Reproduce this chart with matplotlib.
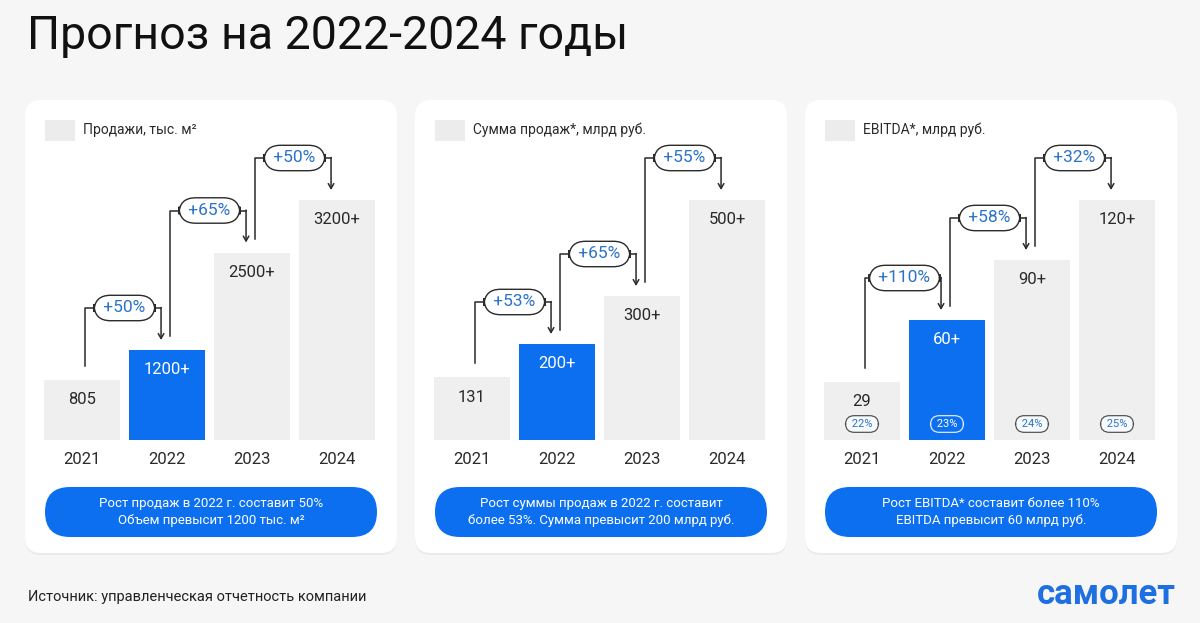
import matplotlib
matplotlib.use("Agg")
import matplotlib.pyplot as plt
from matplotlib.patches import FancyBboxPatch, Rectangle

plt.rcParams['font.family'] = ['Roboto', 'DejaVu Sans']

# данные
years = ['2021', '2022', '2023', '2024']
sales_area = [805, 1200, 2500, 3200]
sales_area_lbl = ['805', '1200+', '2500+', '3200+']
sales_area_growth = ['+50%', '+65%', '+50%']
sales_sum = [131, 200, 300, 500]
sales_sum_lbl = ['131', '200+', '300+', '500+']
sales_sum_growth = ['+53%', '+65%', '+55%']
ebitda = [29, 60, 90, 120]
ebitda_lbl = ['29', '60+', '90+', '120+']
ebitda_growth = ['+110%', '+58%', '+32%']
ebitda_margin = ['22%', '23%', '24%', '25%']

legend_txt = ['Продажи, тыс. м²', 'Сумма продаж*, млрд руб.', 'EBITDA*, млрд руб.']
note_txt = ['Рост продаж в 2022 г. составит 50%\nОбъем превысит 1200 тыс. м²',
            'Рост суммы продаж в 2022 г. составит\nболее 53%. Сумма превысит 200 млрд руб.',
            'Рост EBITDA* составит более 110%\nEBITDA превысит 60 млрд руб.']

BLUE = '#0b6ff0'
GRAY = '#efefef'
BG = '#f6f6f6'
DARK = '#2a2a2a'
PILL_TXT = '#2b72c9'

W, H = 1200, 623
fig = plt.figure(figsize=(12, 6.23), dpi=100, facecolor=BG)
bg = fig.add_axes([0, 0, 1, 1])
bg.set_xlim(0, W)
bg.set_ylim(H, 0)
bg.axis('off')
bg.set_facecolor(BG)

bg.text(27, 36, 'Прогноз на 2022-2024 годы', fontsize=33.5, va='center', ha='left', color='#111')
bg.text(28, 597, 'Источник: управленческая отчетность компании', fontsize=10.5, va='center', color='#222')
bg.text(1176, 595, 'самолет', fontsize=25, fontweight='bold', color='#1e6fe0', ha='right', va='center')

panels = [
    (sales_area, sales_area_lbl, sales_area_growth, None),
    (sales_sum, sales_sum_lbl, sales_sum_growth, None),
    (ebitda, ebitda_lbl, ebitda_growth, ebitda_margin),
]

for p, (vals, lbls, growth, margins) in enumerate(panels):
    px = 25 + 390 * p
    # карточка с тенью
    bg.add_patch(FancyBboxPatch((px, 102), 372, 453, boxstyle='round,pad=0,rounding_size=16',
                                fc='#ebebeb', ec='none', zorder=1))
    bg.add_patch(FancyBboxPatch((px, 100), 372, 453, boxstyle='round,pad=0,rounding_size=16',
                                fc='white', ec='none', zorder=2))
    # легенда
    bg.add_patch(Rectangle((px + 20, 120), 30, 21, fc='#ececec', ec='none', zorder=3))
    bg.text(px + 58, 130, legend_txt[p], fontsize=10, va='center', color=DARK, zorder=3)
    # синяя плашка
    bg.add_patch(FancyBboxPatch((px + 20, 487), 332, 50, boxstyle='round,pad=0,rounding_size=25',
                                fc=BLUE, ec='none', zorder=3))
    bg.text(px + 186, 512, note_txt[p], fontsize=9.5, color='white', ha='center', va='center',
            linespacing=1.45, zorder=4)

    # оси с барами
    step = 85
    left = px + 57 - 0.55 * step
    ax = fig.add_axes([left / W, (H - 440) / H, 4.1 * step / W, 300 / H])
    ax.patch.set_alpha(0)
    ymax = max(vals) * 1.25
    ax.set_xlim(-0.55, 3.55)
    ax.set_ylim(0, ymax)
    u = ymax / 300.0  # единиц данных на пиксель
    colors = [BLUE if i == 1 else GRAY for i in range(4)]
    ax.bar(range(4), vals, width=0.9, color=colors, zorder=2)
    for s in ax.spines.values():
        s.set_visible(False)
    ax.set_yticks([])
    ax.set_xticks(range(4))
    ax.set_xticklabels(years, fontsize=12, color=DARK)
    ax.tick_params(axis='x', length=0, pad=9)

    for i, (v, t) in enumerate(zip(vals, lbls)):
        ax.text(i, v - 20 * u, t, ha='center', va='center', fontsize=12,
                color='white' if i == 1 else DARK, zorder=4)
        if margins:
            on_blue = i == 1
            ax.text(i, 16 * u, ' ' + margins[i] + ' ', ha='center', va='center', fontsize=8,
                    color='white' if on_blue else PILL_TXT, zorder=4,
                    bbox=dict(boxstyle='round,pad=0.3,rounding_size=0.8',
                              fc=BLUE if on_blue else '#f7faff',
                              ec='#dfe9f7' if on_blue else '#555', lw=0.9))

    # стрелки роста
    for i in range(3):
        level = vals[i + 1] + 42 * u
        xu, xd, xm = i + 0.03, i + 0.93, i + 0.5
        ax.plot([xu, xu, xd], [vals[i] + 14 * u, level, level], color=DARK, lw=1.1,
                solid_joinstyle='round', zorder=3)
        ax.annotate('', xy=(xd, vals[i + 1] + 10 * u), xytext=(xd, level + 0.5 * u),
                    arrowprops=dict(arrowstyle='->,head_length=0.35,head_width=0.2',
                                    color=DARK, lw=1.1, shrinkA=0, shrinkB=0), zorder=3)
        ax.text(xm, level, ' ' + growth[i] + ' ', ha='center', va='center', fontsize=12.5,
                color=PILL_TXT, zorder=5,
                bbox=dict(boxstyle='round,pad=0.3,rounding_size=0.95', fc='white', ec=DARK, lw=1))

fig.savefig('out.png', dpi=100, facecolor=BG)
